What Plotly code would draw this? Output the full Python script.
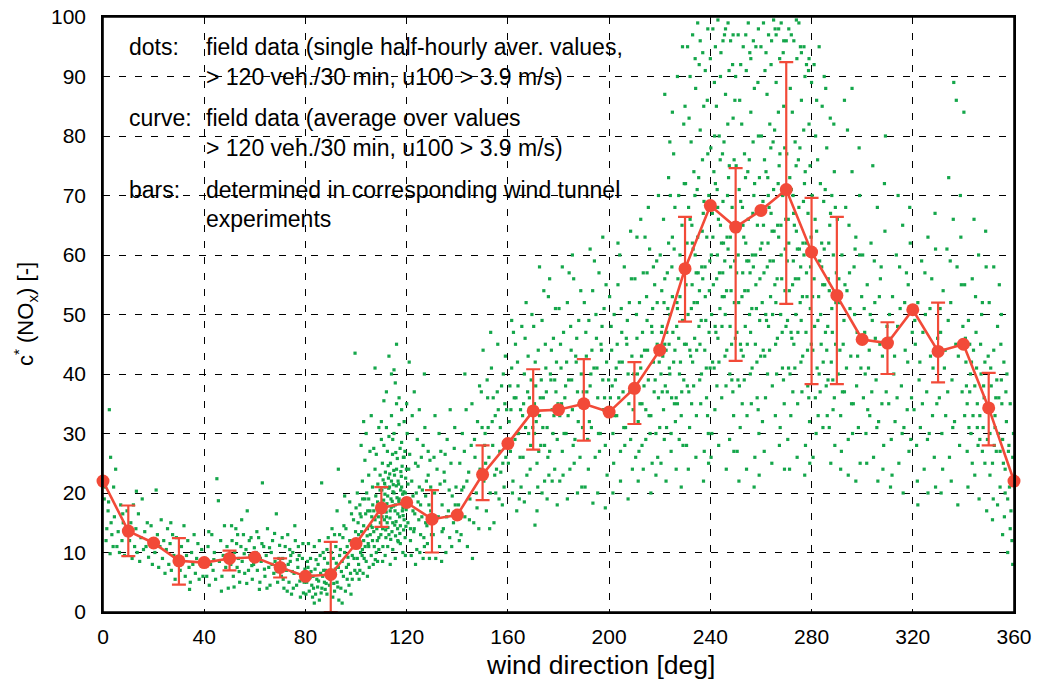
import plotly.graph_objects as go

# ---- averaged field-data curve ----
curve_x = [0, 10, 20, 30, 40, 50, 60, 70, 80, 90, 100, 110, 120, 130, 140, 150, 160, 170, 180,
           190, 200, 210, 220, 230, 240, 250, 260, 270, 280, 290, 300, 310, 320, 330, 340, 350, 360]
curve_y = [22.0, 13.6, 11.6, 8.6, 8.3, 9.0, 9.2, 7.5, 6.0, 6.3, 11.5, 17.5, 18.4, 15.6, 16.3, 23.1,
           28.3, 33.8, 34.0, 35.0, 33.6, 37.6, 44.0, 57.7, 68.3, 64.7, 67.5, 71.0, 60.5, 53.2, 45.8,
           45.2, 50.8, 43.8, 45.0, 34.3, 22.0]

# ---- wind tunnel ranges (bars) ----
bar_x = [10, 30, 50, 70, 90, 110, 130, 150, 170, 190, 210, 230, 250, 270, 280, 290, 310, 330, 350]
bar_lo = [9.4, 4.6, 7.0, 5.8, 0.0, 14.3, 10.0, 18.8, 27.3, 28.8, 31.6, 48.8, 42.2, 51.8, 38.3, 38.3, 40.0, 38.6, 28.0]
bar_hi = [17.9, 12.4, 10.3, 9.0, 11.8, 21.0, 20.5, 28.0, 40.8, 42.5, 42.0, 66.4, 74.6, 92.4, 69.6, 66.4, 48.7, 52.0, 40.2]

# ---- single half-hourly values (dots), "x,y" pairs ----
DOTS_000_050 = """0.5,19 1,21 1.5,14 2,17 2.5,34 3,26 3.5,13 4,11 4.5,16 5,24 1.2,12 2.2,18.5 3.2,15 6,13.5 6.5,10 7,18 7.5,12 8,15 8.5,9.5 9,13 9.5,17 5.5,11 4.2,21 2.8,9.8 7.8,16.5
10.5,12 11,15 11.5,9 12,18 12.5,11 13,14 13.5,10 14,16.5 14.5,8.5 15,12.5 15.5,19 16,10.5 16.5,13.5 17,11 17.5,15 18,9.2 18.5,12 19,14.5 19.5,8 13.2,20.3
20.5,10 21,20.5 21.5,13 22,7.5 22.5,11 23,15.5 23.5,9 24,12 24.5,6.5 25,10.5 25.5,14 26,8 26.5,11.5 27,7 27.5,13 28,9.5 28.5,5.5 29,12.5 29.5,8.5 26.8,15
30.5,7 31,11 31.5,8.5 32,14.5 32.5,6 33,9.5 33.5,12 34,7.5 34.5,5 35,10 35.5,8 36,13 36.5,6.5 37,9 37.5,11.5 38,5.5 38.5,8 39,10.5 39.5,6 34.2,3.8
40.5,9 41,6 41.5,11 42,4.5 42.5,8 43,13 43.5,7 44,10 44.5,5.5 45,22.4 45.6,18.7 46,8.5 46.5,12 47,6 47.5,9.5 48,14.5 48.5,7.5 49,11 49.5,4 41.8,13.5 46.8,3.5 43.8,8.8"""

DOTS_050_100 = """50.5,8 51,12 51.5,6 52,10 52.5,14 53,7.5 53.5,9 54,5 54.5,11 55,8.5 55.5,13 56,6.5 56.5,10.5 57,17 57.5,7 58,9.5 58.5,12.5 59,5.5 59.5,8 50.8,14.5 51.8,4.2 52.8,11.5 53.8,6.8 54.8,15.5 55.8,9.8 56.8,4.8 57.8,12 58.8,7.8 59.8,10.8 53.2,13
60.5,10 61,7 61.5,12.5 62,5 62.5,8.5 63,21.7 63.5,11 64,6 64.5,9.5 65,14 65.5,7.5 66,4.5 66.5,10 67,12 67.5,6.5 68,8.5 68.5,16.5 69,5 69.5,9 60.8,13.5 61.8,3.8 62.8,11.5 63.8,7.2 64.8,4 65.8,10.8 66.8,8 67.8,13.2 68.8,6.8 69.8,11.2 62.2,9
70.5,6 71,9 71.5,4 72,11 72.5,7 73,13 73.5,5 74,8.5 74.5,3 75,10 75.5,6.5 76,12 76.5,4.5 77,7.5 77.5,9.5 78,2.5 78.5,6 79,11.5 79.5,5 70.8,12.5 71.8,7.8 72.8,3.5 73.8,10.5 74.8,6.8 75.8,14.5 76.8,8.8 77.8,5.2 78.8,9 79.8,7.2 71.2,5.5 73.2,8 75.2,4 77.2,11 79.2,3.2 74.2,9.5
80.5,5 81,7.5 81.5,3.5 82,9 82.5,4.5 83,6 83.5,11 84,3 84.5,5.5 85,8 85.5,2 86,6.5 86.5,4 87,10 87.5,5 88,7 88.5,3 89,12.5 89.5,4.5 80.8,8.5 81.8,5.8 82.8,2.5 83.8,7.2 84.8,4.2 85.8,9.5 86.8,6 87.8,3.8 88.8,8.2 89.8,5.5 81.2,11.5 82.2,6.8 83.2,4 84.2,8.8 85.2,5.2 86.2,3.2 87.2,7 88.2,4.8 89.2,6.2 86.4,21.7 80.2,3 83.5,1.5 85.5,12 87.5,9 81.5,6 88.5,10.5
90.5,6 91,9 91.5,3.5 92,11 92.5,5 93,7.5 93.5,13 94,4 94.5,8.5 95,6 95.5,10 96,14 96.5,5.5 97,8 97.5,12 98,3 98.5,9.5 99,15.5 99.5,7 90.8,2.5 91.8,7.2 92.8,4.2 93.8,10.5 94.8,12.5 95.8,3.5 96.8,9.2 97.8,6.5 98.8,11.5 99.8,13.5 90.2,10 91.2,4.8 92.2,8.2 93.2,2 94.2,6.8 95.2,14.5 96.2,7.5 97.2,4.5 98.2,16.5 99.2,9 91.5,13 92.5,17 94.5,1.5 96.5,11 98.5,5.5 97.5,18.5 95.5,19.5 93.5,9.5 99.5,11 90.5,14 93,24 99.6,43.5"""

DOTS_100_150 = """100.5,9 101,13 101.5,7 102,16 102.5,10.5 103,12 103.5,19 104,8.5 104.5,14 105,11 105.5,17 106,9.5 106.5,21 107,13.5 107.5,15.5 108,10 108.5,18.5 109,12.5 109.5,23 100.8,15 101.8,10 102.8,6.5 103.8,16.5 104.8,11.5 105.8,14.5 106.8,8 107.8,19.5 108.8,16 109.8,13 100.2,12 101.2,5.5 102.2,13.5 103.2,9 104.2,20 105.2,7.5 106.2,16 107.2,11 108.2,14 109.2,17.5 101.5,18 102.5,22 103.5,25.5 104.5,6 105.5,27 106.5,12 107.5,24 108.5,8.5 109.5,20.5 100.5,20 102,28 104,30 106,33 108,26.5 110,29 101,8 103,14.5 105,19 107,17 109,10.5 101.6,16.5 102.6,19 103.6,11 104.6,17 105.6,13 106.6,18 107.6,8.8 108.6,21.5 109.6,15 100.4,6.5 102.4,9.5 104.4,12.8 106.4,14.2 108.4,12 105,23 107,27.5 103,32 109,31 100,17.5 107.5,41
110.5,14 111,18 111.5,21 112,16 112.5,19.5 113,13 113.5,17 114,22 114.5,15 115,20 115.5,18 116,24 116.5,16.5 117,19 117.5,14.5 118,21 118.5,17.5 119,15.5 119.5,20
110.8,17 111.8,12.5 112.8,22.5 113.8,19 114.8,17.8 115.8,15.2 116.8,21.5 117.8,18.2 118.8,13.8 119.8,17.2
110.2,20.5 111.2,15.5 112.2,18.2 113.2,21 114.2,13.5 115.2,23 116.2,19.2 117.2,16 118.2,24.5 119.2,19
110.6,11 111.6,23.5 112.6,14.2 113.6,25 114.6,20.2 115.6,12.8 116.6,22 117.6,20.5 118.6,16.2 119.6,22.5
110.4,25 111.4,19.8 112.4,27 113.4,15.8 114.4,26.5 115.4,17 116.4,14 117.4,27.5 118.4,19.8 119.4,12.5
111,28 112,31 113,29.5 114,33 115,30 116,35 117,31.5 118,28.5 119,26 110,32
111.5,9.5 112.5,11 113.5,8 114.5,10.5 115.5,9 116.5,12 117.5,11.5 118.5,10 119.5,9.5 110.5,8.5
112,37 114,40 115.5,38.5 117,36 113,43 116,45 118,34 111,35.5 119,32 114.5,29 115,40.7
110.9,18.8 111.9,16.8 112.9,20.8 113.9,17.6 114.9,23.8 115.9,21.2 116.9,18.6 117.9,22.8 118.9,20.2 119.9,24
110.3,16 111.3,21.6 112.3,15 113.3,23.2 114.3,18.6 115.3,14.6 116.3,25.8 117.3,13.2 118.3,17 119.3,27
111.7,13.8 113.7,12.2 115.7,26.8 117.7,23.6 119.7,14.4 112.7,24.6 114.7,21.4 116.7,11.8 118.7,26 110.7,22.2
120.5,15 121,19 121.5,12 122,22 122.5,17 123,14 123.5,25 124,10.5 124.5,18.5 125,21 125.5,13 126,16 126.5,28 127,11 127.5,19.5 128,14.5 128.5,23 129,9 129.5,17 120.8,24 121.8,9.5 122.8,13.5 123.8,20 124.8,15.5 125.8,26 126.8,12.5 127.8,22 128.8,18 129.8,13 120.2,30 121.2,26.5 122.2,33 123.2,16.5 124.2,29 125.2,10 126.2,20.5 127.2,31 128.2,11.5 129.2,25.5 121.5,14 123.5,8 125.5,18 127.5,15 129.5,21 120.5,21.5 122.5,19.5 124.5,24.5 126.5,9 128.5,27 120,35 123,37 125,34 127,40 121,42
130.5,13 131,20 131.5,9 132,24 132.5,16 133,11 133.5,27 134,18 134.5,14 135,22 135.5,10 136,29 136.5,17 137,12.5 137.5,25 138,19.5 138.5,15 139,31 139.5,21 130.8,26 131.8,15.5 132.8,30 133.8,8.5 134.8,23.5 135.8,16 136.8,20.5 137.8,11 138.8,27.5 139.8,13.5 131.2,33 133.2,21.5 135.2,26.5 137.2,34 139.2,18 134,13.5
140.5,18 141,25 141.5,13 142,30 142.5,21 143,16 143.5,34 144,11 144.5,23.5 145,19 145.5,28 146,9 146.5,15 147,26 147.5,20 148,32 148.5,14 149,24 149.5,37 140.8,12 141.8,20.5 142.8,27 143.8,22 144.8,15.5 145.8,35 146.8,29 147.8,17.5 148.8,38 149.8,31 143,40"""

DOTS_150_230 = """150.5,22 151,30 151.5,17 152,36 152.5,26 153,20 153.5,41 154,28 154.5,15 155,33 155.5,24 156,45 156.5,19 157,31 157.5,38 158,25 158.5,21 159,43 159.5,34 150.8,28 151.8,39 152.8,14 153.8,32 154.8,23 155.8,37 156.8,27 157.8,18 158.8,35 159.8,29 150.2,44 151.2,25 152.2,31 153.2,47 154.2,36 155.2,20 156.2,34 157.2,23.5 158.2,40 159.2,26
160.5,32 161,27 161.5,41 162,22 162.5,36 163,45 163.5,30 164,38 164.5,19 165,34 165.5,48 166,26 166.5,40 167,31 167.5,23 168,43 168.5,36 169,28 169.5,50 160.8,38 161.8,20 162.8,29 163.8,42 164.8,26 165.8,33 166.8,46 167.8,37 168.8,24 169.8,31 160.2,25 161.2,34 162.2,47 163.2,36 164.2,30 165.2,21 166.2,35 167.2,52 168.2,30 169.2,39 170.7,14.6 163.5,17 166.5,18.5 161.5,49 168.5,20
170.5,30 171,38 171.5,25 172,44 172.5,33 173,28 173.5,49 174,36 174.5,22 175,41 175.5,31 176,53 176.5,27 177,39 177.5,34 178,46 178.5,24 179,37 179.5,29 170.8,42 171.8,21 172.8,36 173.8,31 174.8,45 175.8,26 176.8,40 177.8,30 178.8,51 179.8,35 170.2,48 171.2,32 172.2,27 173.2,39 174.2,54 175.2,37 176.2,23 177.2,44 178.2,33 179.2,42 171.5,17 173.5,20 175.5,19 177.5,22 179.5,18 172.5,58 176.5,56 170.5,35 174.5,28 178.5,39
180.5,33 181,41 181.5,27 182,47 182.5,36 183,30 183.5,52 184,39 184.5,24 185,44 185.5,34 186,56 186.5,29 187,42 187.5,37 188,49 188.5,26 189,40 189.5,31 180.8,45 181.8,23 182.8,38 183.8,33 184.8,48 185.8,28 186.8,43 187.8,32 188.8,54 189.8,37 180.2,51 181.2,35 182.2,30 183.2,42 184.2,57 185.2,39 186.2,25 187.2,46 188.2,35 189.2,21 180.5,22 183.5,19 187.5,20 181.5,58 185.5,60
190.5,35 191,43 191.5,29 192,49 192.5,38 193,31 193.5,54 194,41 194.5,26 195,46 195.5,36 196,57 196.5,30 197,44 197.5,39 198,51 198.5,28 199,42 199.5,33 190.8,47 191.8,24 192.8,40 193.6,18.3 194.8,50 195.8,30 196.8,45 197.8,34 198.8,55 199.8,39 190.2,52 191.2,37 192.2,32 193.2,44 194.2,59 195.2,41 196.2,27 197.2,48 198.2,36 199.2,23 190.5,21 195.5,20 198.5,17.5 192.5,61 197.5,63
200.5,36 201,44 201.5,30 202,50 202.5,39 203,33 203.5,55 204,42 204.5,27 205,47 205.5,37 206,58 206.5,31 207,45 207.5,40 208,52 208.5,29 209,43 209.5,34 200.8,48 201.8,25 202.8,41 203.8,36 204.8,51 205.8,31 206.8,46 207.8,35 208.8,56 209.8,40 200.2,53 201.2,38 202.2,33 203.2,45 204.2,60 205.2,42 206.2,28 207.2,49 208.2,37 209.2,24 201.5,20 204.5,22 207.5,19 203.5,62 208.5,64
210.5,38 211,46 211.5,32 212,52 212.5,41 213,35 213.5,57 214,44 214.5,29 215,49 215.5,39 216,61 216.5,33 217,47 217.5,42 218,55 218.5,30 219,45 219.5,36 210.8,50 211.8,27 212.8,43 213.8,38 214.8,53 215.8,33 216.8,48 217.8,37 218.8,59 219.8,42 210.2,56 211.2,40 212.2,35 213.2,47 214.2,63 215.2,44 216.2,30 217.2,51 218.2,39 219.2,26 211.5,22 213.5,24 216.5,20 218.5,23 212.5,66 215.5,68 219.5,70 210.5,26 214.5,34 217.5,58 219,52 211,63 213,28 215,57 217,25
220.5,40 221,48 221.5,34 222,56 222.5,44 223,37 223.5,62 224,50 224.5,30 225,53 225.5,42 226,68 226.5,36 227,51 227.5,46 228,60 228.5,33 229,49 229.5,39 220.8,54 221.8,29 222.8,47 223.8,41 224.8,58 225.8,35 226.8,52 227.8,40 228.8,65 229.8,45 220.2,60 221.2,43 222.2,38 223.2,51 224.2,70 225.2,47 226.2,32 227.2,56 228.2,42 229.2,28 220.5,25 222.5,22 224.5,27 226.5,24 228.5,21 221.5,66 223.5,73 225.5,77 227.5,70 229.5,82 220,31 221,37 222,45 223,57 224,40 225,63 226,44 227,35 228,53 229,58 220.7,47 221.7,52 222.7,31 223.7,45 224.7,36 225.7,61 226.7,48 227.7,29 228.7,37 229.7,72 222,87 225,84 227,90 229,95 224,79"""

DOTS_230_290 = """230.5,45 231,58 231.5,37 232,66 232.5,51 233,42 233.5,74 234,60 234.5,33 235,63 235.5,48 236,81 236.5,40 237,56 237.5,69 238,53 238.5,36 239,77 239.5,47
230.8,62 231.8,31 232.8,55 233.8,46 234.8,71 235.8,39 236.8,64 237.8,44 238.8,86 239.8,59
230.2,72 231.2,50 232.2,43 233.2,61 234.2,88 235.2,57 236.2,35 237.2,67 238.2,49 239.2,30
230.6,28 231.6,83 232.6,35 233.6,52 234.6,44 235.6,92 236.6,58 237.6,27 238.6,63 239.6,54
230.4,55 231.4,68 232.4,79 233.4,38 234.4,57 235.4,73 236.4,49 237.4,85 238.4,41 239.4,70
231,95 233,97 235,99 237,94 239,98 232,90 234,93 236,96 238,91 230,85
230.9,38 231.9,44 232.9,62 233.9,70 234.9,52 235.9,45 236.9,76 237.9,58 238.9,33 239.9,41
231.3,24 234.3,26 237.3,22 239.3,25 232.7,65 235.7,54
240.5,50 241,63 241.5,41 242,72 242.5,56 243,46 243.5,80 244,65 244.5,36 245,69 245.5,53 246,87 246.5,44 247,61 247.5,75 248,58 248.5,39 249,83 249.5,52
240.8,67 241.8,34 242.8,60 243.8,51 244.8,77 245.8,43 246.8,70 247.8,48 248.8,92 249.8,64
240.2,78 241.2,55 242.2,47 243.2,66 244.2,94 245.2,62 246.2,38 247.2,73 248.2,54 249.2,33
240.6,30 241.6,89 242.6,38 243.6,57 244.6,48 245.6,97 246.6,63 247.6,29 248.6,68 249.6,59
240.4,60 241.4,74 242.4,85 243.4,42 244.4,62 245.4,79 246.4,54 247.4,91 248.4,45 249.4,76
241,98 243,99.5 245,96 247,99 249,97 242,95 244,90 246,98 248,96 240,93
240.9,42 241.9,48 242.9,68 243.9,76 244.9,57 245.9,50 246.9,82 247.9,63 248.9,37 249.9,46
240.3,26 243.3,28 246.3,24 249.3,27 242.7,71 245.7,59 247.7,40 249.7,86 244.7,53 241.7,80
250.5,47 251,60 251.5,38 252,69 252.5,53 253,43 253.5,77 254,62 254.5,33 255,66 255.5,50 256,84 256.5,41 257,58 257.5,72 258,55 258.5,36 259,80 259.5,49
250.8,64 251.8,31 252.8,57 253.8,48 254.8,74 255.8,40 256.8,67 257.8,45 258.8,89 259.8,61
250.2,75 251.2,52 252.2,44 253.2,63 254.2,91 255.2,59 256.2,35 257.2,70 258.2,51 259.2,30
250.6,27 251.6,86 252.6,35 253.6,54 254.6,45 255.6,94 256.6,60 257.6,26 258.6,65 259.6,56
250.4,57 251.4,71 252.4,82 253.4,39 254.4,59 255.4,76 256.4,51 257.4,88 258.4,42 259.4,73
251,97 253,95 255,99 257,96 259,98 252,92 254,97 256,93 258,95 250,90
250.9,39 251.9,45 252.9,65 253.9,73 254.9,54 255.9,47 256.9,79 257.9,60 258.9,34 259.9,43
251.3,22 254.3,24 257.3,21 259.3,23 252.7,68 255.7,57
260.5,52 261,65 261.5,43 262,74 262.5,58 263,48 263.5,82 264,67 264.5,38 265,71 265.5,55 266,89 266.5,46 267,63 267.5,77 268,60 268.5,41 269,85 269.5,54
260.8,69 261.8,36 262.8,62 263.8,53 264.8,79 265.8,45 266.8,72 267.8,50 268.8,94 269.8,66
260.2,80 261.2,57 262.2,49 263.2,68 264.2,96 265.2,64 266.2,40 267.2,75 268.2,56 269.2,35
260.6,32 261.6,91 262.6,40 263.6,59 264.6,50 265.6,98 266.6,65 267.6,31 268.6,70 269.6,61
260.4,62 261.4,76 262.4,87 263.4,44 264.4,64 265.4,81 266.4,56 267.4,93 268.4,47 269.4,78
261,99 263,97 265,99.5 267,98 269,96 262,94 264,92 266,97 268,99 260,95
260.9,44 261.9,50 262.9,70 263.9,78 264.9,59 265.9,52 266.9,84 267.9,65 268.9,39 269.9,48
261.3,27 264.3,25 267.3,28 269.3,24 262.7,73 265.7,33
270.5,49 271,62 271.5,40 272,71 272.5,55 273,45 273.5,79 274,64 274.5,35 275,68 275.5,52 276,86 276.5,43 277,60 277.5,74 278,57 278.5,38 279,82 279.5,51
270.8,66 271.8,33 272.8,59 273.8,50 274.8,76 275.8,42 276.8,69 277.8,47 278.8,91 279.8,63
270.2,77 271.2,54 272.2,46 273.2,65 274.2,93 275.2,61 276.2,37 277.2,72 278.2,53 279.2,32
270.6,29 271.6,88 272.6,37 273.6,56 274.6,47 275.6,95 276.6,62 277.6,28 278.6,67 279.6,58
270.4,59 271.4,73 272.4,84 273.4,41 274.4,61 275.4,78 276.4,53 277.4,90 278.4,44 279.4,75
271,98 273,96 275,99 277,95 279,93 272,97 274,99.5 276,94 278,92 270,96
270.9,41 271.9,47 272.9,67 273.9,75 274.9,56 275.9,49 276.9,81 277.9,62 278.9,36 279.9,45
271.3,24 274.3,26 277.3,23 279.3,25 272.7,70 275.7,58
280.5,44 281,56 281.5,36 282,64 282.5,49 283,40 283.5,72 284,58 284.5,31 285,61 285.5,47 286,78 286.5,39 287,54 287.5,67 288,51 288.5,34 289,74 289.5,45
280.8,60 281.8,30 282.8,53 283.8,45 284.8,69 285.8,38 286.8,62 287.8,42 288.8,82 289.8,57
280.2,70 281.2,48 282.2,41 283.2,59 284.2,85 285.2,55 286.2,33 287.2,65 288.2,47 289.2,28
280.6,26 281.6,80 282.6,33 283.6,50 284.6,42 285.6,88 286.6,56 287.6,25 288.6,60 289.6,52
280.4,53 281.4,66 282.4,76 283.4,37 284.4,55 285.4,71 286.4,48 287.4,83 288.4,39 289.4,68
281,92 283,95 285,90 280,89 282,86 284,62 286,44 288,70 289,36 287,31"""

DOTS_290_360 = """290.5,40 291,52 291.5,33 292,60 292.5,45 293,37 293.5,68 294,54 294.5,29 295,57 295.5,43 296,74 296.5,35 297,50 297.5,63 298,47 298.5,31 299,70 299.5,41
290.8,56 291.8,27 292.8,49 293.8,41 294.8,65 295.8,35 296.8,58 297.8,38 298.8,78 299.8,53
290.2,66 291.2,44 292.2,37 293.2,55 294.2,81 295.2,51 296.2,30 297.2,61 298.2,43 299.2,25
291.5,24 294.5,23 297.5,22 293,86 296,88 299,60
300.5,36 301,47 301.5,30 302,55 302.5,41 303,33 303.5,62 304,49 304.5,26 305,52 305.5,39 306,68 306.5,32 307,45 307.5,58 308,43 308.5,28 309,64 309.5,37
300.8,51 301.8,25 302.8,44 303.8,37 304.8,59 305.8,31 306.8,53 307.8,35 308.8,72 309.8,48
300.2,60 301.2,40 302.2,34 303.2,50 304.2,75 305.2,46 306.2,22 307.2,56 308.2,24 309.2,80
310.5,35 311,46 311.5,29 312,53 312.5,40 313,32 313.5,60 314,48 314.5,25 315,51 315.5,38 316,65 316.5,31 317,44 317.5,57 318,42 318.5,27 319,62 319.5,36
310.8,50 311.8,23 312.8,43 313.8,36 314.8,58 315.8,30 316.8,52 317.8,34 318.8,68 319.8,47 311.2,21 314.2,70 316.2,20 318.2,55 319.2,29
320.5,34 321,45 321.5,28 322,52 322.5,39 323,31 323.5,59 324,47 324.5,24 325,50 325.5,37 326,63 326.5,30 327,43 327.5,56 328,41 328.5,26 329,61 329.5,35
320.8,49 321.8,22 322.8,42 323.8,35 324.8,57 325.8,29 326.8,51 327.8,33 328.8,67 329.8,46 322,18 326,20 329,21
330.5,36 331,47 331.5,30 332,54 332.5,41 333,33 333.5,61 334,49 334.5,26 335,52 335.5,39 336,66 336.5,32 337,45 337.5,58 338,43 338.5,28 339,63 339.5,37
330.8,51 331.8,24 332.8,44 333.8,37 334.8,59 335.8,31 336.2,89 337.2,86 338.8,70 339.8,48 331.2,20 334.2,73 335.2,22 337.8,18 339.2,55
340.5,33 341,42 341.5,27 342,49 342.5,37 343,30 343.5,56 344,44 344.5,23 345,47 345.5,35 346,60 346.5,29 347,40 347.5,52 348,38 348.5,25 349,58 349.5,34
340.8,46 341.8,21 342.8,40 343.8,33 344.8,53 345.8,28 346.8,45 347.8,31 348.8,64 349.8,43
340.2,84 341.2,38 342.2,31 343.2,42 344.2,66 345.2,41 346.2,19 347.2,50 348.2,36 349.2,17
341.5,35 343.5,25 345.5,31 347.5,27 349.5,29 340.5,55 342.5,45 344.5,38 346.5,33 348.5,42
350.5,30 351,38 351.5,25 352,44 352.5,33 353,27 353.5,48 354,36 354.5,21 355,39 355.5,29 356,42 356.5,24 357,32 357.5,19 358,28 358.5,35 359,22 359.5,26
350.8,41 351.8,19 352.8,36 353.8,30 354.8,45 355.8,25 356.8,37 357.8,27 358.8,17 359.8,30
350.2,52 351.2,34 352.2,28 353.2,39 354.2,55 355.2,35 356.2,16 357.2,40 358.2,21 359.2,12
351.5,15.5 353.5,18 355.5,13 357.5,10 359.5,8 350.5,23 352.5,31 354.5,27 356.5,20 358.5,14
352,58 355,50"""

x_ticks = [0, 40, 80, 120, 160, 200, 240, 280, 320, 360]
y_ticks = [0, 10, 20, 30, 40, 50, 60, 70, 80, 90, 100]

legend_lines = [
    ("dots:", "field data (single half-hourly aver. values,"),
    ("", "> 120 veh./30 min, u100 > 3.9 m/s)"),
    ("curve:", "field data (average over values"),
    ("", "> 120 veh./30 min, u100 > 3.9 m/s)"),
    ("bars:", "determined in corresponding wind tunnel"),
    ("", "experiments"),
]
legend_y = [95.0, 89.9, 83.0, 78.0, 70.9, 66.0]

dot_x, dot_y = [], []
for block in (DOTS_000_050, DOTS_050_100, DOTS_100_150, DOTS_150_230, DOTS_230_290, DOTS_290_360):
    for tok in block.split():
        a, b = tok.split(",")
        dot_x.append(float(a))
        dot_y.append(float(b))

GREEN = "#14a64a"
RED = "#f24a38"
FONT = "Liberation Sans, Arial, sans-serif"

fig = go.Figure()
fig.add_trace(go.Scatter(
    x=dot_x, y=dot_y, mode="markers",
    marker=dict(symbol="square", size=3.2, color=GREEN, line=dict(width=0)),
    hoverinfo="skip", showlegend=False))

bar_mid = [(lo + hi) / 2 for lo, hi in zip(bar_lo, bar_hi)]
bar_half = [(hi - lo) / 2 for lo, hi in zip(bar_lo, bar_hi)]
fig.add_trace(go.Scatter(
    x=bar_x, y=bar_mid, mode="markers",
    marker=dict(size=1, color="rgba(0,0,0,0)"),
    error_y=dict(type="data", array=bar_half, symmetric=True, color=RED, thickness=2.2, width=7),
    showlegend=False, cliponaxis=False))

fig.add_trace(go.Scatter(
    x=curve_x, y=curve_y, mode="lines+markers",
    line=dict(color=RED, width=2.6),
    marker=dict(symbol="circle", size=13, color=RED),
    showlegend=False, cliponaxis=False))

for (lab, txt), yy in zip(legend_lines, legend_y):
    if lab:
        fig.add_annotation(x=9.5, y=yy, text=lab, showarrow=False, xanchor="left", yanchor="middle",
                           font=dict(size=23, color="black", family=FONT))
    fig.add_annotation(x=39.9, y=yy, text=txt, showarrow=False, xanchor="left", yanchor="middle",
                       font=dict(size=23, color="black", family=FONT))

# axis titles placed as in the reference
fig.add_annotation(x=196.4, y=-0.089, xref="x", yref="paper", text="wind direction [deg]",
                   showarrow=False, xanchor="center", yanchor="middle",
                   font=dict(size=26.5, color="black", family=FONT))
fig.add_annotation(x=-0.085, y=0.5, xref="paper", yref="paper",
                   text="c<sup>*</sup> (NO<sub>x</sub>) [-]", textangle=-90,
                   showarrow=False, xanchor="center", yanchor="middle",
                   font=dict(size=22, color="black", family=FONT))

# plot frame
fig.add_shape(type="rect", xref="paper", yref="paper", x0=0, y0=0, x1=1, y1=1,
              line=dict(color="black", width=1.6), layer="above")

axis_common = dict(
    showline=True, linecolor="black", linewidth=1.6, mirror=True,
    ticks="outside", tickwidth=1, tickcolor="rgba(255,255,255,0)",
    showgrid=True, gridcolor="black", gridwidth=1.3, griddash="7px,9px",
    zeroline=False, tickfont=dict(size=21, color="black", family=FONT),
    ticklabeloverflow="allow", automargin=False,
)

fig.update_xaxes(range=[0, 360], tickvals=x_ticks, ticktext=[str(v) for v in x_ticks],
                 ticklen=5, **axis_common)
fig.update_yaxes(range=[0, 100], tickvals=y_ticks, ticktext=[str(v) for v in y_ticks],
                 ticklen=11, **axis_common)

# page body adds an 8px margin: compensate so the plot area sits where the reference has it
fig.update_layout(
    width=1035, height=673,
    margin=dict(l=95, r=29, t=9, b=69, autoexpand=False),
    paper_bgcolor="white", plot_bgcolor="white",
    font=dict(family=FONT, color="black"),
    showlegend=False,
)

fig.write_html("out.html")
